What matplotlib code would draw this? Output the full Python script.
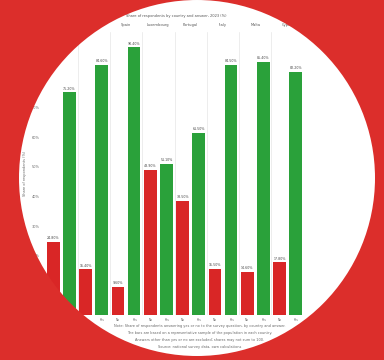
import matplotlib
matplotlib.use("Agg")
import matplotlib.pyplot as plt
from matplotlib.path import Path
from matplotlib.patches import PathPatch
import numpy as np

# ---- data ----
groups = ["Belgium", "France", "Spain", "Luxembourg", "Portugal", "Italy", "Malta", "Cyprus"]
answers = ["No", "Yes"]
no_values = [24.8, 15.4, 9.6, 48.9, 38.5, 15.5, 14.6, 17.8]
yes_values = [75.2, 84.6, 90.4, 51.1, 61.5, 84.5, 85.4, 82.2]
yticks = [0, 10, 20, 30, 40, 50, 60, 70, 80, 90]
title = "Share of respondents by country and answer, 2023 (%)"
ylabel = "Share of respondents (%)"
caption = [
    "Note: Share of respondents answering yes or no to the survey question, by country and answer.",
    "The bars are based on a representative sample of the population in each country.",
    "Answers other than yes or no are excluded; shares may not sum to 100.",
    "Source: national survey data, own calculations",
]

W, H, DPI = 384, 360, 100
RED_BG = "#dc2e2b"
RED_BAR = "#d92626"
GREEN_BAR = "#2aa13a"

fig = plt.figure(figsize=(W / DPI, H / DPI), dpi=DPI, facecolor="white")
ax = fig.add_axes([42 / W, 45 / H, 265 / W, 283 / H])

n = len(groups)
x_no = np.arange(n) * 2
x_yes = x_no + 1
bw = 0.78
ax.bar(x_no, no_values, width=bw, color=RED_BAR, zorder=3)
ax.bar(x_yes, yes_values, width=bw, color=GREEN_BAR, zorder=3)

for xs, vals in ((x_no, no_values), (x_yes, yes_values)):
    for xx, v in zip(xs, vals):
        ax.text(xx, v + 0.6, f"{v:.2f}%", ha="center", va="bottom", fontsize=2.3, color="#444444")

ax.set_xlim(-0.7, 2 * n - 1 + 0.7)
ax.set_ylim(0, 95.6)
for k in range(1, n):
    ax.axvline(2 * k - 0.5, color="#e6e6e6", lw=0.5, zorder=1)

ax.set_xticks(list(x_no) + list(x_yes))
ax.set_xticklabels([answers[0]] * n + [answers[1]] * n, fontsize=2.2, color="#666666")
ax.set_yticks(yticks)
ax.set_yticklabels([f"{t}%" for t in yticks], fontsize=2.5, color="#666666")
ax.tick_params(length=0, pad=2)
for s in ax.spines.values():
    s.set_visible(False)
ax.set_ylabel(ylabel, fontsize=2.5, color="#666666", labelpad=3)

for xx, g in zip(x_no + 0.5, groups):
    ax.text(xx, 1.025, g, transform=ax.get_xaxis_transform(), ha="center", va="center",
            fontsize=2.6, color="#555555")

fig.text(176 / W, 1 - 16 / H, title, ha="center", va="center", fontsize=2.6, color="#555555")
for i, line in enumerate(caption):
    fig.text(200 / W, 1 - (326 + 7 * i) / H, line, ha="center", va="center", fontsize=2.5, color="#666666")

# red frame with circular window
cx, cy, r = 197 / DPI, (H - 178) / DPI, 178 / DPI
rect = Path([(0, 0), (0, H / DPI), (W / DPI, H / DPI), (W / DPI, 0), (0, 0)],
            [Path.MOVETO, Path.LINETO, Path.LINETO, Path.LINETO, Path.CLOSEPOLY])
circ = Path.circle((cx, cy), r)
mask = Path.make_compound_path(rect, circ)
fig.patches.append(PathPatch(mask, facecolor=RED_BG, edgecolor="none",
                             transform=fig.dpi_scale_trans, zorder=10))

fig.savefig("out.png", dpi=DPI, facecolor="white")
